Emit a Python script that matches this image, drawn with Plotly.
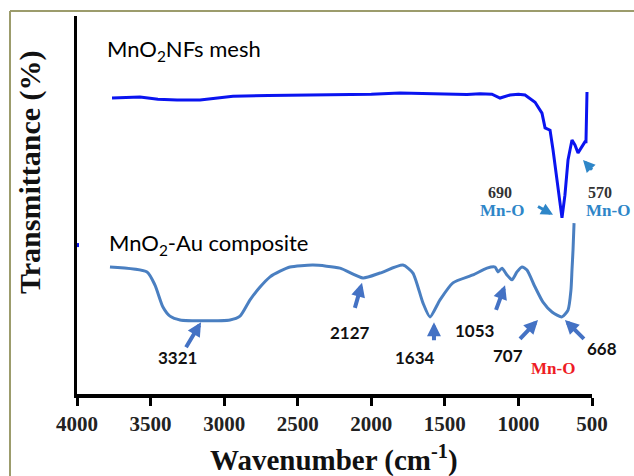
import plotly.graph_objects as go

# ---- data (wavenumber cm-1, transmittance arbitrary units) ----
mesh_wn = [3762, 3680, 3572, 3450, 3320, 3164, 3050, 2940, 2700, 2484, 2200, 2000, 1805,
           1650, 1465, 1350, 1261, 1180, 1125, 1057, 1000, 955, 887, 840, 819, 785, 765,
           731, 704, 684, 663, 636, 616, 595, 568, 548, 541, 534, 534]
mesh_t = [78.3, 78.5, 78.6, 78.0, 77.8, 77.8, 78.4, 78.8, 79.0, 79.1, 79.3, 79.3, 79.6,
          79.5, 79.4, 79.2, 79.4, 79.3, 78.3, 79.1, 79.3, 79.1, 77.2, 74.3, 70.4, 69.8, 64.6,
          54.0, 46.6, 52.6, 61.9, 67.2, 65.9, 63.8, 65.3, 66.7, 66.7, 75.1, 79.9]

comp_wn = [3776, 3524, 3470, 3416, 3368, 3300, 2960, 2892, 2824, 2756, 2688, 2620, 2552,
           2396, 2213, 2056, 1941, 1785, 1717, 1649, 1601, 1533, 1445, 1309, 1214, 1159,
           1139, 1112, 1078, 1044, 1010, 976, 942, 887, 833, 772, 704, 663, 643, 636, 629, 622]
comp_t = [33.6, 32.3, 28.8, 23.0, 20.6, 19.6, 19.6, 20.6, 24.9, 28.3, 31.0, 32.5, 33.6,
          34.1, 33.3, 30.7, 32.0, 34.1, 32.0, 24.1, 20.4, 24.9, 29.4, 31.5, 33.3, 33.6,
          32.3, 33.3, 31.5, 30.2, 32.3, 33.6, 32.8, 28.3, 24.3, 21.7, 20.4, 22.2, 27.5, 32.8, 38.1, 45.2]

x_ticks = [4000, 3500, 3000, 2500, 2000, 1500, 1000, 500]

comp_peaks = ["3321", "2127", "1634", "1053", "707", "668"]
comp_head_wn = [3157, 2063, 1574, 1091, 867, 684]
comp_head_t = [19.0, 29.4, 19.0, 28.8, 19.6, 19.6]

mesh_peaks = ["690", "570"]
mesh_head_wn = [765, 561]
mesh_head_t = [47.4, 61.9]

# ---- layout helpers (pixel geometry) ----
W, H = 634, 476
L, R, T, B = 77, 42, 16, 82
PW, PH = W - L - R, H - T - B


def px(x):
    return (x - L) / PW


def py(y):
    return (H - B - y) / PH


fig = go.Figure()
fig.add_trace(go.Scatter(x=mesh_wn, y=mesh_t, mode="lines",
                         line=dict(color="#0A14F0", width=3), showlegend=False))
fig.add_trace(go.Scatter(x=comp_wn, y=comp_t, mode="lines",
                         line=dict(color="#4A7FC1", width=3, shape="spline", smoothing=0.6),
                         showlegend=False))
fig.add_trace(go.Scatter(x=[4000], y=[39.4], mode="markers",
                         marker=dict(color="#0A14F0", size=4, symbol="square"),
                         showlegend=False, cliponaxis=False))

ann = []
serif = "Liberation Serif"
sans = "Lato"


def label(xp, yp, text, font, anchor="center", angle=0):
    ann.append(dict(x=px(xp), y=py(yp), xref="paper", yref="paper", text=text,
                    showarrow=False, xanchor=anchor, yanchor="middle", textangle=angle,
                    font=font))


comp_arrow_dx = [-18, -10, 0, -12, -21, 22]
comp_arrow_dy = [30, 35, 28, 33, 22, 22]
comp_lab_px = [177, 350, 415, 475, 508, 602]
comp_lab_py = [357, 332, 357, 330, 355, 348]
for i, t in enumerate(comp_peaks):
    ann.append(dict(x=comp_head_wn[i], y=comp_head_t[i], xref="x", yref="y", text=" ",
                    showarrow=True, ax=comp_arrow_dx[i], ay=comp_arrow_dy[i],
                    arrowcolor="#4472C4", arrowwidth=4, arrowhead=2, arrowsize=0.7,
                    standoff=0, startstandoff=0))
    label(comp_lab_px[i], comp_lab_py[i], "<b>" + t + "</b>",
          dict(family=sans, size=17, color="#111111"))

label(553, 368, "<b>Mn-O</b>", dict(family=serif, size=17, color="#EE1C24"))

mesh_arrow_dx = [-18, 12]
mesh_arrow_dy = [-10, 13]
mesh_lab_px = [500, 600]
mesh_mno_px = [502, 608]
for i, t in enumerate(mesh_peaks):
    ann.append(dict(x=mesh_head_wn[i], y=mesh_head_t[i], xref="x", yref="y", text=" ",
                    showarrow=True, ax=mesh_arrow_dx[i], ay=mesh_arrow_dy[i],
                    arrowcolor="#2E86C8", arrowwidth=3, arrowhead=2, arrowsize=0.8,
                    standoff=0, startstandoff=0))
    label(mesh_lab_px[i], 192, "<b>" + t + "</b>", dict(family=serif, size=16, color="#333333"))
    label(mesh_mno_px[i], 210, "<b>Mn-O</b>", dict(family=serif, size=17, color="#2E86C8"))

label(105, 50, "MnO<sub>2</sub>NFs mesh", dict(family=sans, size=22, color="#000000"), "left")
label(107, 244, "MnO<sub>2</sub>-Au composite", dict(family=sans, size=22, color="#000000"), "left")

label(334, 459, "<b>Wavenumber (cm<sup>-1</sup>)</b>", dict(family=serif, size=29, color="#111111"))
label(30, 172, "<b>Transmittance (%)</b>", dict(family=serif, size=30, color="#111111"),
      "center", -90)

shapes = [
    dict(type="line", xref="paper", yref="paper", x0=px(10), x1=px(10), y0=py(480), y1=py(11),
         line=dict(color="#9C9C6C", width=2)),
    dict(type="line", xref="paper", yref="paper", x0=px(10), x1=px(640), y0=py(11), y1=py(11),
         line=dict(color="#9C9C6C", width=2)),
]

fig.update_layout(
    width=W, height=H,
    margin=dict(l=L, r=R, t=T, b=B),
    paper_bgcolor="white", plot_bgcolor="white",
    annotations=ann, shapes=shapes,
    xaxis=dict(range=[4000, 500], tickvals=x_ticks, ticktext=[str(v) for v in x_ticks],
               showgrid=False, zeroline=False, showline=True, linecolor="black", linewidth=4,
               ticks="outside", ticklen=8, tickwidth=3, tickcolor="black",
               tickfont=dict(family=serif, size=21, color="#222222", weight="bold")),
    yaxis=dict(range=[0, 100], showgrid=False, zeroline=False, showline=True,
               linecolor="black", linewidth=3, showticklabels=False, ticks=""),
)

fig.write_html("out.html")
